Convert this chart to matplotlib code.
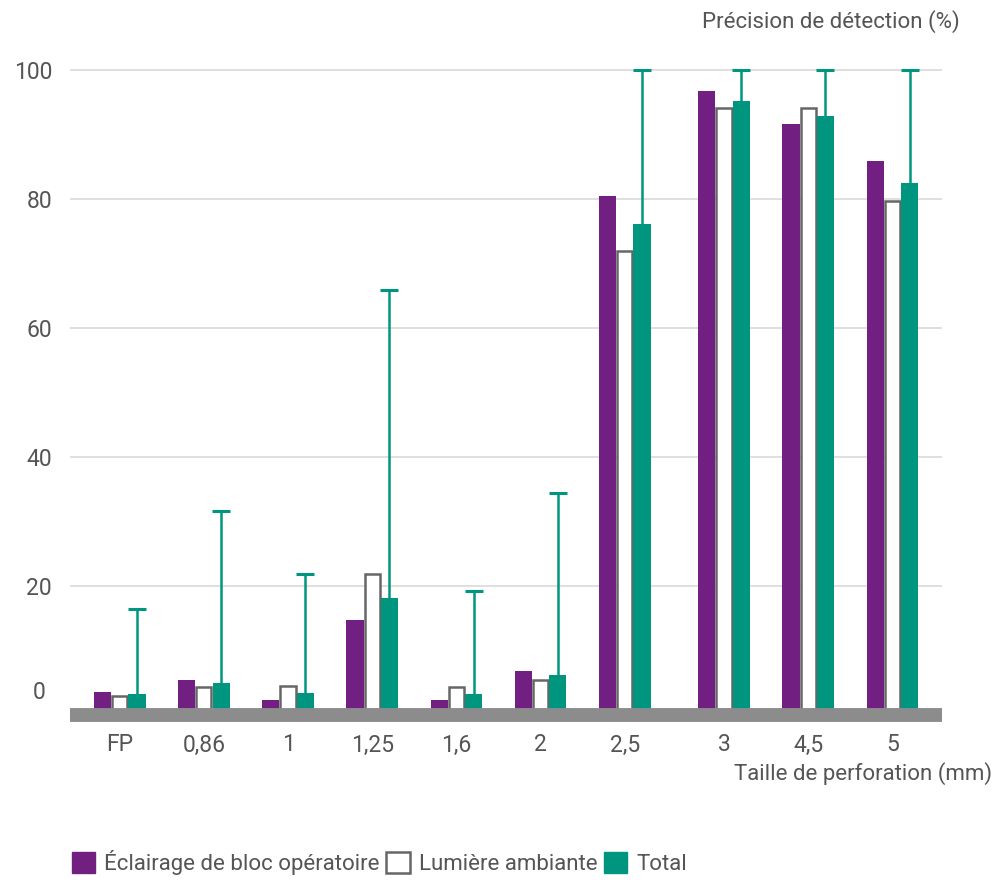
import matplotlib.pyplot as plt
import numpy as np
from matplotlib.patches import Patch

# perforation sizes and detection accuracy (%) per lighting condition
categories = ["FP", "0,86", "1", "1,25", "1,6", "2", "2,5", "3", "4,5", "5"]
eclairage_bloc = [3.5, 5.4, 2.4, 14.8, 2.3, 6.9, 80.5, 96.8, 91.7, 86.0]
lumiere_ambiante = [2.9, 4.4, 4.5, 21.9, 4.3, 5.5, 71.9, 94.1, 94.1, 79.7]
total = [3.2, 5.0, 3.4, 18.1, 3.3, 6.2, 76.1, 95.3, 92.9, 82.6]
total_upper = [16.5, 31.6, 21.8, 66.0, 19.2, 34.4, 100.0, 100.0, 100.0, 100.0]
yticks = [20, 40, 60, 80, 100]

PURPLE = "#711f80"
GREEN = "#00957f"
EDGE = "#666666"
TEXT = "#555555"

plt.rcParams["font.family"] = ["Roboto", "DejaVu Sans"]

fig = plt.figure(figsize=(10.02, 8.8), dpi=100)
ax = fig.add_axes([0.0699, 0.1728, 0.8703, 0.7546])

# a slightly wider gap before the "3" group
x = np.arange(len(categories)) + (np.arange(len(categories)) >= 7) * 0.18
w = 0.205

ax.bar(x - w, eclairage_bloc, width=w, color=PURPLE, zorder=2)
ax.bar(x, lumiere_ambiante, width=w * 0.88, color="white", edgecolor=EDGE,
       linewidth=1.8, zorder=2)
ax.bar(x + w, total, width=w, color=GREEN, zorder=2)

# upper-only error whiskers on the total bars
ax.vlines(x + w, total, total_upper, color=GREEN, linewidth=1.8, zorder=3)
ax.plot(x + w, total_upper, linestyle="none", marker="_", markersize=13,
        markeredgewidth=2.2, color=GREEN, zorder=3)

ax.axhline(0, color="#8c8c8c", linewidth=10, zorder=4, solid_capstyle="butt")

ax.set_xlim(x[0] - 0.59, x[-1] + 0.59)
ax.set_ylim(-2, 101)
ax.set_yticks(yticks)
ax.set_yticklabels([str(t) for t in yticks])
ax.yaxis.grid(True, color="#d9d9d9", linewidth=1.2, zorder=0)
ax.set_axisbelow(True)
ax.set_xticks(x)
ax.set_xticklabels(categories)
ax.tick_params(axis="both", length=0, labelcolor=TEXT, labelsize=16.5)
ax.tick_params(axis="y", pad=13)
ax.tick_params(axis="x", pad=4)
for s in ax.spines.values():
    s.set_visible(False)

# zero label sits a little above the baseline band
ax.text(-0.028, 3.5, "0", transform=ax.get_yaxis_transform(), ha="right",
        va="center", fontsize=16.5, color=TEXT)

fig.text(0.958, 0.975, "Précision de détection (%)", ha="right", va="center",
         fontsize=16, color=TEXT)
fig.text(0.99, 0.121, "Taille de perforation (mm)", ha="right", va="center",
         fontsize=16, color=TEXT)

handles = [
    Patch(facecolor=PURPLE, edgecolor=PURPLE),
    Patch(facecolor="white", edgecolor=EDGE, linewidth=1.8),
    Patch(facecolor=GREEN, edgecolor=GREEN),
]
labels = ["Éclairage de bloc opératoire", "Lumière ambiante", "Total"]
fig.legend(handles, labels, loc="center left", bbox_to_anchor=(0.052, 0.02),
           ncol=3, frameon=False, fontsize=16, labelcolor=TEXT,
           handlelength=1.05, handleheight=1.05, handletextpad=0.4,
           columnspacing=0.3)

fig.savefig("out.png", dpi=100)
